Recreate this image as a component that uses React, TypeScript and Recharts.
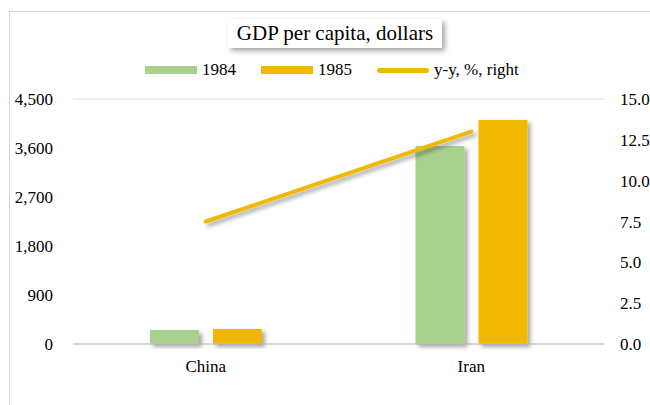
import React from "react";
import { ComposedChart, Bar, Line, XAxis, YAxis, CartesianGrid } from "recharts";

const countries = ["China", "Iran"];
const gdp1984 = [257, 3637];
const gdp1985 = [275, 4114];
const yoyGrowth = [7.5, 13.0];
const leftTicks = [0, 900, 1800, 2700, 3600, 4500];
const rightTicks = [0, 2.5, 5, 7.5, 10, 12.5, 15];

const GREEN = "#A9D18E";
const GOLD = "#F1B800";
const FONT = "'Liberation Serif', 'Times New Roman', serif";

const data = countries.map((c, i) => ({
  name: c,
  y1984: gdp1984[i],
  y1985: gdp1985[i],
  yoy: yoyGrowth[i],
}));

function LegendRow() {
  const item = (color: string, label: string, line?: boolean) => (
    <span style={{ display: "inline-flex", alignItems: "center", marginRight: line ? 0 : 25 }}>
      <span
        style={{
          display: "inline-block",
          width: 52,
          height: line ? 5 : 8,
          borderRadius: line ? 3 : 0,
          background: color,
          marginRight: 5,
        }}
      />
      <span>{label}</span>
    </span>
  );
  return (
    <div
      style={{
        position: "absolute",
        left: 145,
        top: 60,
        whiteSpace: "nowrap",
        fontFamily: FONT,
        fontSize: 17,
        lineHeight: "20px",
        color: "#000",
        display: "flex",
      }}
    >
      {item(GREEN, "1984")}
      {item(GOLD, "1985")}
      {item(GOLD, "y-y, %, right", true)}
    </div>
  );
}

export default function App() {
  return (
    <div style={{ position: "absolute", left: 0, top: 0, width: 650, height: 405, background: "#fff", overflow: "hidden" }}>
      <div
        style={{
          position: "absolute",
          left: 9,
          top: 11,
          width: 700,
          height: 450,
          border: "1px solid #d9d9d9",
        }}
      />
      <div style={{ position: "absolute", left: 0, top: 0 }}>
        <ComposedChart
          width={650}
          height={405}
          data={data}
          margin={{ top: 99, right: 0, bottom: 31, left: 13 }}
          barCategoryGap="29%"
          barGap={14}
        >
          <defs>
            <filter id="shadow" x="-20%" y="-20%" width="150%" height="150%">
              <feDropShadow dx="3" dy="3" stdDeviation="2" floodColor="#000" floodOpacity="0.35" />
            </filter>
          </defs>
          <CartesianGrid vertical={false} stroke="#d9d9d9" />
          <XAxis
            dataKey="name"
            height={30}
            tickLine={false}
            axisLine={{ stroke: "#bfbfbf" }}
            tick={{ fontFamily: FONT, fontSize: 17, fill: "#000" }}
            tickMargin={10}
          />
          <YAxis
            yAxisId="left"
            domain={[0, 4500]}
            ticks={leftTicks}
            width={60}
            axisLine={false}
            tickLine={false}
            tickSize={0}
            tickMargin={20}
            tickFormatter={(v: number) => v.toLocaleString("en-US")}
            tick={{ fontFamily: FONT, fontSize: 17, fill: "#000" }}
          />
          <YAxis
            yAxisId="right"
            orientation="right"
            domain={[0, 15]}
            ticks={rightTicks}
            width={46}
            axisLine={false}
            tickLine={false}
            tickSize={0}
            tickMargin={16}
            tickFormatter={(v: number) => v.toFixed(1)}
            tick={{ fontFamily: FONT, fontSize: 17, fill: "#000", textAnchor: "start" }}
          />
          <Bar yAxisId="left" dataKey="y1984" fill={GREEN} filter="url(#shadow)" isAnimationActive={false} />
          <Bar yAxisId="left" dataKey="y1985" fill={GOLD} filter="url(#shadow)" isAnimationActive={false} />
          <Line
            yAxisId="right"
            dataKey="yoy"
            stroke={GOLD}
            strokeWidth={4}
            strokeLinecap="round"
            dot={false}
            activeDot={false}
            filter="url(#shadow)"
            isAnimationActive={false}
          />
        </ComposedChart>
      </div>
      <div
        style={{
          position: "absolute",
          left: 228,
          top: 19,
          width: 214,
          height: 29,
          background: "#fff",
          boxShadow: "3px 3px 5px rgba(0,0,0,0.35)",
          fontFamily: FONT,
          fontSize: 21,
          lineHeight: "29px",
          textAlign: "center",
          whiteSpace: "nowrap",
          color: "#000",
        }}
      >
        GDP per capita, dollars
      </div>
      <LegendRow />
    </div>
  );
}
